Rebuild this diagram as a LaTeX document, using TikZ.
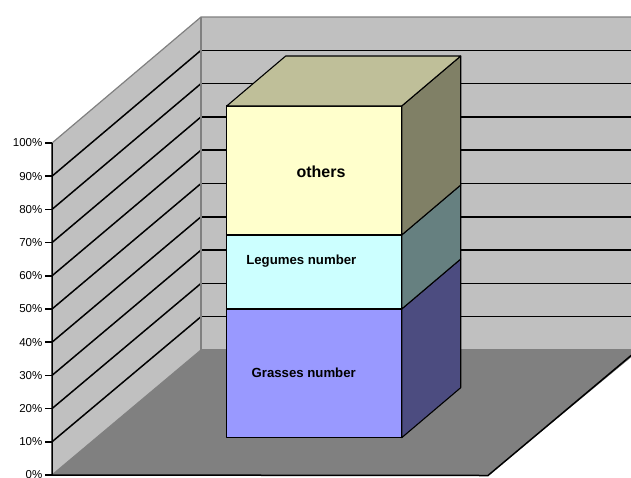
\documentclass[tikz,border=0pt]{standalone}
\usepackage{fontspec}
\setmainfont{Liberation Sans}
\definecolor{wallc}{HTML}{C0C0C0}
\definecolor{floorc}{HTML}{808080}
\definecolor{edgec}{HTML}{808080}
\definecolor{othF}{HTML}{FFFFCC}
\definecolor{othT}{HTML}{BFBF99}
\definecolor{othS}{HTML}{808066}
\definecolor{legF}{HTML}{CCFFFF}
\definecolor{legS}{HTML}{668080}
\definecolor{graF}{HTML}{9999FF}
\definecolor{graS}{HTML}{4C4C80}
\begin{document}
\begin{tikzpicture}[x=1pt,y=-1pt,
  gridline/.style={black,line width=1.5pt},
  wallline/.style={edgec,line width=1.2pt},
  axisline/.style={black,line width=1.5pt},
  face/.style={draw=black,line width=1.1pt,line join=round},
  axlabel/.style={anchor=east,inner sep=0pt,font=\fontsize{11.5}{12}\selectfont},
  barlabel/.style={anchor=base,inner sep=0pt,font=\bfseries\fontsize{13.2}{14}\selectfont},
  biglabel/.style={anchor=base,inner sep=0pt,font=\bfseries\fontsize{16}{18}\selectfont}]
\useasboundingbox (0,0) rectangle (631,477);
\clip (0,0) rectangle (631,477);
% walls and floor
\fill[wallc] (201,17) rectangle (645,350);
\fill[wallc] (52,143) -- (201,17) -- (201,350) -- (52,475) -- cycle;
\fill[floorc] (52,475) -- (201,350) -- (640,350) -- (488,475.5) -- cycle;
% grid lines
\foreach \k in {1,...,9} {
  \draw[gridline] (201,{350-33.3*\k}) -- (645,{350-33.3*\k});
  \draw[gridline] (52,{475-33.2*\k}) -- (201,{350-33.3*\k});
}
% wall edges
\draw[wallline] (52,143) -- (201,17) -- (645,17);
\draw[wallline] (201,17) -- (201,350) -- (645,350);
\draw[wallline] (201,350) -- (52,475);
% axes
\draw[axisline] (52,143) -- (52,475) -- (488,475.5) -- (640,348);
\foreach \k in {0,...,10} {
  \pgfmathtruncatemacro\pc{10*\k}
  \draw[gridline] (45,{475-33.2*\k}) -- (52,{475-33.2*\k});
  \node[axlabel] (lab\k) at (42.5,{475-33.2*\k}) {\pc\%};
}
% bar: grasses
\filldraw[face,fill=graF] (226.7,437.7) rectangle (401.7,309);
\filldraw[face,fill=graS] (401.7,437.7) -- (460.7,387.7) -- (460.7,259) -- (401.7,309) -- cycle;
% legumes
\filldraw[face,fill=legF] (226.7,309) rectangle (401.7,235);
\filldraw[face,fill=legS] (401.7,309) -- (460.7,259) -- (460.7,185) -- (401.7,235) -- cycle;
% others
\filldraw[face,fill=othF] (226.7,235) rectangle (401.7,106);
\filldraw[face,fill=othS] (401.7,235) -- (460.7,185) -- (460.7,56) -- (401.7,106) -- cycle;
\filldraw[face,fill=othT] (226.7,106) -- (285.7,56) -- (460.7,56) -- (401.7,106) -- cycle;
% labels
\node[biglabel] (others) at (321,177.7) {others};
\node[barlabel] (legumes) at (301.3,264) {Legumes number};
\node[barlabel] (grasses) at (303.7,377.3) {Grasses number};
\end{tikzpicture}
\end{document}
